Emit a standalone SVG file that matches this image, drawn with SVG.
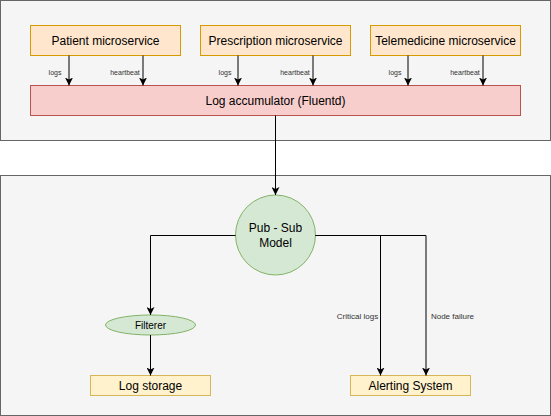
<svg xmlns="http://www.w3.org/2000/svg" width="551" height="416" viewBox="0 0 551 416">
<style>
text{font-family:"Liberation Sans",Arial,Helvetica,sans-serif;fill:#000;text-anchor:middle;dominant-baseline:central}
.cont{fill:#f5f5f5;stroke:#666666;stroke-width:1}
.ms{fill:#ffe6cc;stroke:#d79b00;stroke-width:1}
.acc{fill:#f8cecc;stroke:#b85450;stroke-width:1}
.grn{fill:#d5e8d4;stroke:#82b366;stroke-width:1}
.ylw{fill:#fff2cc;stroke:#d6b656;stroke-width:1}
.t12{font-size:12px}
.t10{font-size:10px}
.lbl7{font-size:7px;fill:#333333}
.lbl8{font-size:8px;fill:#333333}
.edge{fill:none;stroke:#000;stroke-width:1;marker-end:url(#arr)}
</style>
<defs>
<marker id="arr" markerUnits="userSpaceOnUse" markerWidth="8" markerHeight="8" viewBox="0 0 8 8" refX="8" refY="4" orient="auto">
<path d="M0,0 L8,4 L0,8 L2,4 Z" fill="#000"/>
</marker>
</defs>
<g id="top-container"><rect class="cont" x="0.5" y="0.5" width="550" height="140"/></g>
<g id="bottom-container"><rect class="cont" x="0.5" y="175.5" width="550" height="240"/></g>
<g id="patient"><rect class="ms" x="30.5" y="25.5" width="150" height="30"/><text class="t12" x="105.5" y="40.5">Patient microservice</text></g>
<g id="prescription"><rect class="ms" x="200.5" y="25.5" width="150" height="30"/><text class="t12" x="275.5" y="40.5">Prescription microservice</text></g>
<g id="telemedicine"><rect class="ms" x="370.5" y="25.5" width="150" height="30"/><text class="t12" x="445.5" y="40.5">Telemedicine microservice</text></g>
<g id="accumulator"><rect class="acc" x="30.5" y="85.5" width="490" height="30"/><text class="t12" x="275.5" y="100.5">Log accumulator (Fluentd)</text></g>
<g id="pubsub"><circle class="grn" cx="275.5" cy="235" r="40"/><text class="t12" x="275.5" y="228">Pub - Sub</text><text class="t12" x="275.5" y="242.5">Model</text></g>
<g id="filterer"><ellipse class="grn" cx="150.5" cy="325" rx="45" ry="10"/><text class="t10" x="150.5" y="325.5">Filterer</text></g>
<g id="logstorage"><rect class="ylw" x="90.5" y="375.5" width="120" height="20"/><text class="t12" x="150.5" y="385.5">Log storage</text></g>
<g id="alerting"><rect class="ylw" x="350.5" y="375.5" width="120" height="20"/><text class="t12" x="410.5" y="385.5">Alerting System</text></g>
<g id="connectors">
<path class="edge" d="M69,55.5 L69,85.5"/>
<path class="edge" d="M143,55.5 L143,85.5"/>
<path class="edge" d="M238,55.5 L238,85.5"/>
<path class="edge" d="M313,55.5 L313,85.5"/>
<path class="edge" d="M408,55.5 L408,85.5"/>
<path class="edge" d="M483,55.5 L483,85.5"/>
<text class="lbl7" x="55" y="72">logs</text>
<text class="lbl7" x="125" y="72">heartbeat</text>
<text class="lbl7" x="225" y="72">logs</text>
<text class="lbl7" x="295" y="72">heartbeat</text>
<text class="lbl7" x="395" y="72">logs</text>
<text class="lbl7" x="465" y="72">heartbeat</text>
<path class="edge" d="M275.5,115.5 L275.5,195"/>
<path class="edge" d="M235.5,235.5 L150.5,235.5 L150.5,315"/>
<path class="edge" d="M150.5,335 L150.5,375.5"/>
<path class="edge" d="M315.5,235.5 L380.5,235.5 L380.5,375.5"/>
<path class="edge" d="M315.5,235.5 L426,235.5 L426,375.5"/>
<text class="lbl8" x="357.5" y="316.5">Critical logs</text>
<text class="lbl8" x="452.5" y="316.5">Node failure</text>
</g>
</svg>
